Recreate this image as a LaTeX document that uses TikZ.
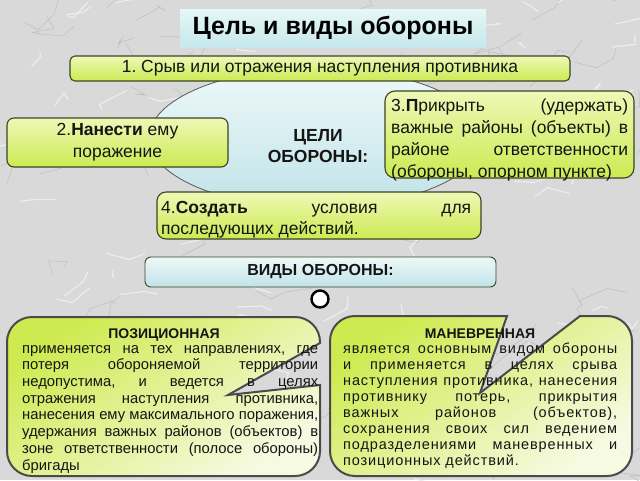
\documentclass[tikz,border=0pt]{standalone}
\usepackage{fontspec}
\setmainfont{Liberation Sans}
\newfontfamily\spacedfont{Liberation Sans}[LetterSpace=6]
\usetikzlibrary{shapes.geometric}
\definecolor{bgcol}{HTML}{D9D9D9}
\definecolor{veindark}{HTML}{BEBEBE}
\definecolor{veinlight}{HTML}{EDEDED}
\definecolor{ink}{HTML}{151515}
\definecolor{gtop}{HTML}{EEF8B6}
\definecolor{gbot}{HTML}{CDEA52}
\definecolor{boxline}{HTML}{3A4424}
\definecolor{ctop}{HTML}{EEF9F9}
\definecolor{cbot}{HTML}{C0E3E8}
\definecolor{ttop}{HTML}{E6F7F7}
\definecolor{tbot}{HTML}{C6E8EC}
\definecolor{ktop}{HTML}{CFEA50}
\definecolor{kbot}{HTML}{F6FAE2}
\definecolor{calline}{HTML}{4A4A4A}
\newcommand\myfs[2]{\fontsize{#1}{#2}\selectfont}
\newcommand\jline[2]{\makebox[#1][s]{#2}}
\frenchspacing
\begin{document}
\frenchspacing
\begin{tikzpicture}[x=1pt,y=-1pt,
  vein/.style={line width=0.5pt},
  greenbox/.style={draw=boxline, line width=1.1pt, rounded corners=7pt,
     top color=gtop, bottom color=gbot, text=ink, inner sep=0pt},
  cyanbox/.style={draw=boxline, line width=0.9pt, rounded corners=6pt,
     top color=ctop, bottom color=cbot, text=ink, inner sep=0pt},
  callout/.style={draw=calline, line width=2pt, top color=ktop,
     bottom color=kbot, shading angle=35},
  bodytxt/.style={text=ink, inner sep=0pt, align=left, anchor=base west},
]
\useasboundingbox (0,0) rectangle (640,480);
% marble background
\fill[bgcol] (0,0) rectangle (640,480);
\pgfmathsetseed{12}
\foreach \k in {1,...,110}{
  \draw[vein, draw=veindark] ({rnd*640},{rnd*480}) -- ++({rnd*40-12},{rnd*26-18})
     -- ++({rnd*40-12},{rnd*26-18}) -- ++({rnd*40-12},{rnd*26-18});
}
\foreach \k in {1,...,90}{
  \draw[vein, draw=veinlight, line width=1.2pt] ({rnd*640},{rnd*480}) -- ++({rnd*36-8},{rnd*24-16})
     -- ++({rnd*36-8},{rnd*24-16});
}

% title
\node[top color=ttop, bottom color=tbot, minimum width=306pt, minimum height=38pt,
      inner sep=0pt, text=black, font=\myfs{25}{30}\bfseries] (title) at (333,28) {Цель и виды обороны};

% ellipse of goals
\node[draw=black!65, line width=0.8pt, ellipse, top color=ctop, bottom color=cbot,
      minimum width=334pt, minimum height=140pt, inner sep=0pt] (goals) at (316,138) {};
\node[text=ink, font=\myfs{17.5}{21}\bfseries, align=center, inner sep=0pt] (goalslabel) at (318,146) {ЦЕЛИ\\ОБОРОНЫ:};

% goal boxes
\node[greenbox, rounded corners=5pt, minimum width=500pt, minimum height=25pt,
      font=\myfs{17.5}{21}] (goal1) at (320,68.5) {1. Срыв или отражения наступления противника};
\node[greenbox, minimum width=221pt, minimum height=49pt, align=center,
      font=\myfs{17.5}{22}] (goal2) at (117.5,142.5) {2.\textbf{Нанести} ему\\поражение};
\node[greenbox, rounded corners=10pt, minimum width=249pt, minimum height=87pt] (goal3) at (509.5,134.5) {};
\node[bodytxt, font=\myfs{17.5}{22}] (goal3txt) at (391,177)
  {\jline{237pt}{3.\textbf{П}рикрыть (удержать)}\\
   \jline{237pt}{важные районы (объекты) в}\\
   \jline{237pt}{районе ответственности}\\
   (обороны, опорном пункте)};
\node[greenbox, rounded corners=9pt, minimum width=324pt, minimum height=47pt] (goal4) at (319,215.5) {};
\node[bodytxt, font=\myfs{17.5}{21}] (goal4txt) at (161,234)
  {\jline{310pt}{4.\textbf{Создать} условия для}\\
   последующих действий.};

% types of defence
\node[cyanbox, minimum width=351pt, minimum height=30pt, font=\myfs{16}{20}\bfseries] (types) at (320.5,272) {ВИДЫ ОБОРОНЫ:};
\node[circle, draw=black, line width=2.4pt, fill=white, minimum size=17pt, inner sep=0pt] (dot) at (320,299) {};

% callouts
\draw[callout] (32,317) -- (295,317) arc[start angle=-90, end angle=0, radius=25]
  -- (320,343) -- (228,395) -- (320,385)
  -- (320,451) arc[start angle=0, end angle=90, radius=25]
  -- (32,476) arc[start angle=90, end angle=180, radius=25]
  -- (7,342) arc[start angle=180, end angle=270, radius=25] -- cycle;
\draw[callout] (355,316) -- (507,316) -- (480,393) -- (580,316)
  -- (607,316) arc[start angle=-90, end angle=0, radius=25]
  -- (632,451) arc[start angle=0, end angle=90, radius=25]
  -- (355,476) arc[start angle=90, end angle=180, radius=25]
  -- (330,341) arc[start angle=180, end angle=270, radius=25] -- cycle;

\node[text=ink, inner sep=0pt, anchor=base, font=\myfs{14}{17}\bfseries] (poshead) at (164,338) {ПОЗИЦИОННАЯ};
\node[bodytxt, font=\myfs{14.8}{16.7}] (posbody) at (22,470)
  {\jline{296pt}{применяется на тех направлениях, где}\\
   \jline{296pt}{потеря обороняемой территории}\\
   \jline{296pt}{недопустима, и ведется в целях}\\
   \jline{296pt}{отражения наступления противника,}\\
   \jline{296pt}{нанесения ему максимального поражения,}\\
   \jline{296pt}{удержания важных районов (объектов) в}\\
   \jline{296pt}{зоне ответственности (полосе обороны)}\\
   бригады};

\node[text=ink, inner sep=0pt, anchor=base, font=\myfs{14}{17}\bfseries] (manhead) at (480,338) {МАНЕВРЕННАЯ};
\node[bodytxt, font=\spacedfont\myfs{14.5}{15.9}] (manbody) at (343,465)
  {\jline{274pt}{является основным видом обороны}\\
   \jline{274pt}{и применяется в целях срыва}\\
   \jline{274pt}{наступления противника, нанесения}\\
   \jline{274pt}{противнику потерь, прикрытия}\\
   \jline{274pt}{важных районов (объектов),}\\
   \jline{274pt}{сохранения своих сил ведением}\\
   \jline{274pt}{подразделениями маневренных и}\\
   позиционных действий.};
\end{tikzpicture}
\end{document}
